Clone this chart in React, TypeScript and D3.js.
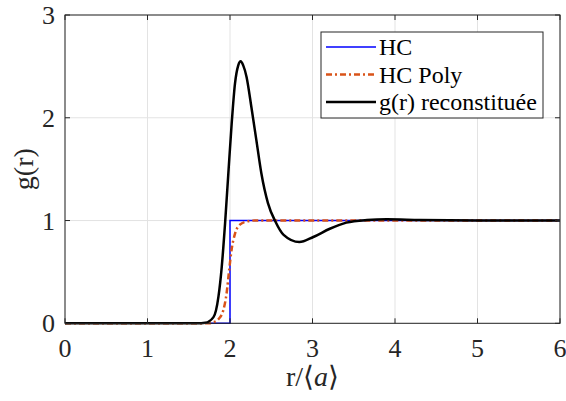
import React from "react";
import * as d3 from "d3";

const xTicks = [0, 1, 2, 3, 4, 5, 6];
const yTicks = [0, 1, 2, 3];

const hcR = [0, 2, 2, 6];
const hcG = [0, 0, 1, 1];

const polyR = [0, 1.75, 1.8, 1.86, 1.92, 1.96, 1.99, 2.02, 2.06, 2.12, 2.2, 2.3, 6];
const polyG = [0, 0, 0.01, 0.04, 0.13, 0.3, 0.52, 0.72, 0.87, 0.96, 0.99, 1.0, 1.0];

const recR = [0, 1.6, 1.7, 1.8, 1.86, 1.9, 1.94, 1.98, 2.02, 2.06, 2.1, 2.13, 2.16, 2.2, 2.26, 2.32, 2.38, 2.46, 2.55, 2.65, 2.84, 3.01, 3.21, 3.41, 3.66, 3.9, 4.3, 5.0, 6.0];
const recG = [0, 0, 0.005, 0.06, 0.26, 0.55, 0.97, 1.46, 1.94, 2.33, 2.51, 2.55, 2.51, 2.4, 2.1, 1.78, 1.46, 1.17, 0.99, 0.86, 0.79, 0.84, 0.92, 0.98, 1.005, 1.012, 1.005, 1.0, 1.0];

const legendLabels = ["HC", "HC Poly", "g(r) reconstituée"];
const xLabel = "r/";
const yLabel = "g(r)";

const W = 566, H = 401;
const left = 65, right = 560, top = 15, bottom = 323.3;
const FONT = "Liberation Serif";

export default function App() {
  const x = d3.scaleLinear().domain([0, 6]).range([left, right]);
  const y = d3.scaleLinear().domain([0, 3]).range([bottom, top]);
  const line = d3.line<[number, number]>().x(d => x(d[0])).y(d => y(d[1])).curve(d3.curveMonotoneX);
  const lineLin = d3.line<[number, number]>().x(d => x(d[0])).y(d => y(d[1]));
  const hc = hcR.map((r, i) => [r, hcG[i]] as [number, number]);
  const poly = polyR.map((r, i) => [r, polyG[i]] as [number, number]);
  const rec = recR.map((r, i) => [r, recG[i]] as [number, number]);
  const axisCol = "#262626";
  const legX = 321, legY = 32, legW = 222, legH = 86;
  const rowY = [47, 74.5, 102];
  const styles = [
    { stroke: "#0000ff", width: 1.5, dash: undefined as string | undefined },
    { stroke: "#D95319", width: 2.5, dash: "6,3,2,3" },
    { stroke: "#000000", width: 2.5, dash: undefined },
  ];
  return (
    <div style={{ position: "absolute", left: 0, top: 0 }}>
      <svg width={W} height={H} style={{ display: "block", background: "#fff" }}>
        <rect x={0} y={0} width={W} height={H} fill="#fff" />
        {xTicks.map(t => (
          <line key={"gx" + t} x1={x(t)} x2={x(t)} y1={top} y2={bottom} stroke="#e3e3e3" strokeWidth={1} />
        ))}
        {yTicks.map(t => (
          <line key={"gy" + t} x1={left} x2={right} y1={y(t)} y2={y(t)} stroke="#e3e3e3" strokeWidth={1} />
        ))}
        <g clipPath="url(#clip)">
          <path d={lineLin(hc) || ""} fill="none" stroke={styles[0].stroke} strokeWidth={styles[0].width} />
          <path d={line(poly) || ""} fill="none" stroke={styles[1].stroke} strokeWidth={styles[1].width} strokeDasharray={styles[1].dash} />
          <path d={line(rec) || ""} fill="none" stroke={styles[2].stroke} strokeWidth={styles[2].width} strokeLinejoin="round" />
        </g>
        <defs>
          <clipPath id="clip">
            <rect x={left - 2} y={top} width={right - left + 4} height={bottom - top + 2} />
          </clipPath>
        </defs>
        <rect x={left} y={top} width={right - left} height={bottom - top} fill="none" stroke={axisCol} strokeWidth={1} />
        {xTicks.map(t => (
          <g key={"tx" + t}>
            <line x1={x(t)} x2={x(t)} y1={bottom} y2={bottom - 5} stroke={axisCol} />
            <line x1={x(t)} x2={x(t)} y1={top} y2={top + 5} stroke={axisCol} />
            <text x={x(t)} y={357} textAnchor="middle" fontSize={26} fill="#262626" fontFamily={FONT}>{t}</text>
          </g>
        ))}
        {yTicks.map(t => (
          <g key={"ty" + t}>
            <line x1={left} x2={left + 5} y1={y(t)} y2={y(t)} stroke={axisCol} />
            <line x1={right} x2={right - 5} y1={y(t)} y2={y(t)} stroke={axisCol} />
            <text x={55} y={y(t) + 9} textAnchor="end" fontSize={26} fill="#262626" fontFamily={FONT}>{t}</text>
          </g>
        ))}
        <text x={x(3)} y={386} textAnchor="middle" fontSize={28} fill="#262626" fontFamily={FONT}>
          {xLabel}<tspan>⟨</tspan><tspan fontStyle="italic">a</tspan><tspan>⟩</tspan>
        </text>
        <text transform={`translate(33, ${(top + bottom) / 2}) rotate(-90)`} textAnchor="middle" fontSize={28} fill="#262626" fontFamily={FONT}>{yLabel}</text>
        <rect x={legX} y={legY} width={legW} height={legH} fill="#fff" stroke={axisCol} strokeWidth={1} />
        {legendLabels.map((lab, i) => (
          <g key={lab}>
            <line x1={326} x2={376} y1={rowY[i]} y2={rowY[i]} stroke={styles[i].stroke} strokeWidth={styles[i].width} strokeDasharray={styles[i].dash} />
            <text x={379} y={rowY[i] + 8} fontSize={24} fill="#000" fontFamily={FONT}>{lab}</text>
          </g>
        ))}
      </svg>
    </div>
  );
}
